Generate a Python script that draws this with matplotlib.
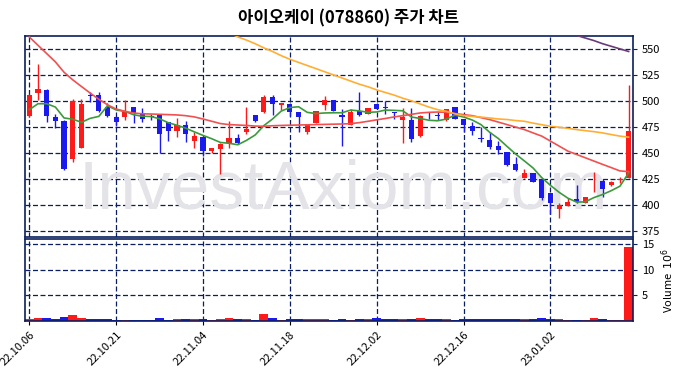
import matplotlib
matplotlib.use('Agg')
import matplotlib.pyplot as plt
import numpy as np

plt.rcParams['font.family'] = ['Noto Sans CJK KR', 'DejaVu Sans']

title = '아이오케이 (078860) 주가 차트'
tick_labels = ['22.10.06', '22.10.21', '22.11.04', '22.11.18', '22.12.02', '22.12.16', '23.01.02']
tick_pos = [0, 10, 20, 30, 40, 50, 60]

# OHLC (KRW)
opens = [486, 508, 511, 485, 481, 444, 455, 505.5, 506, 495, 485, 485, 495, 489, 485.5, 487, 480, 471, 477, 462,
         466, 452, 454, 460, 465, 470, 487, 490, 504, 496, 497, 490, 470, 479, 496, 501, 487, 477, 491, 488,
         497, 494.5, 489, 482, 482, 466.5, 486, 487, 482, 495, 483, 476, 464.5, 463, 457, 451, 440, 426, 431, 425,
         411.5, 396.5, 399.5, 406, 402.5, 422, 423.5, 419.5, 424, 426]
highs = [507, 536, 512, 488, 482, 502, 502, 509, 509, 498, 486, 501, 495, 494, 488, 487, 480, 484, 481, 470,
         466, 455, 460, 481, 469, 495, 487, 506, 506, 498, 498, 490, 478, 491, 505, 501, 493, 493, 509, 494,
         498, 500, 490, 494, 494, 486.5, 490, 490, 493, 495, 483, 480, 475.6, 470, 462, 451, 446, 435, 431, 425,
         411.5, 402.5, 406.5, 419, 407.5, 432, 425, 423, 427, 516]
lows = [485, 501, 480, 474, 434, 442, 455, 499, 490, 485, 476, 482, 479, 480, 482, 450, 462, 466, 461, 455,
        447, 450, 430, 455, 459, 469, 480, 489, 487, 492, 486, 470, 469, 479, 492, 491, 457, 477, 486, 488,
        493, 488, 483, 460, 461, 466, 483, 482, 481, 483, 470, 468, 460.7, 454, 449, 438, 433, 426, 422, 405,
        391.5, 387.5, 399.5, 402.5, 402.5, 413, 407.5, 418, 421, 426]
closes = [506, 512, 486, 481, 435, 500, 497, 505, 490.5, 486, 480, 490, 489, 483, 485, 469, 471, 477, 469, 467,
          452, 455, 459, 465, 460, 473, 481, 504, 497, 498, 490, 485, 477, 491, 501, 491, 485, 490, 487, 494,
          493, 494, 488.5, 485, 464, 486, 485.5, 486, 493, 483, 477, 471, 464, 456, 453, 439, 434, 431, 422, 406.5,
          402, 400.5, 403, 403, 407.5, 422.5, 415.5, 422, 424.5, 471]
# volume in millions of shares
volumes = [0.33, 0.53, 0.53, 0.33, 0.72, 1.1, 0.53, 0.33, 0.33, 0.33, 0.13, 0.2, 0.13, 0.13, 0.13, 0.53, 0.13, 0.33, 0.33, 0.33,
           0.33, 0.13, 0.33, 0.53, 0.33, 0.33, 0.13, 1.3, 0.53, 0.13, 0.33, 0.33, 0.33, 0.33, 0.33, 0.13, 0.33, 0.13, 0.33, 0.33,
           0.53, 0.33, 0.33, 0.33, 0.33, 0.53, 0.33, 0.33, 0.33, 0.13, 0.33, 0.33, 0.3, 0.3, 0.3, 0.3, 0.3, 0.33, 0.33, 0.53,
           0.33, 0.33, 0.13, 0.13, 0.13, 0.53, 0.33, 0.13, 0.13, 14.5]

# moving averages
ma5 = [492, 497.7, 497.7, 494.5, 484, 482.8, 479.8, 483.6, 485.5, 495.7, 491.7, 490.3, 487.1, 485.6, 485.4, 483.2, 479.4, 477, 474.2, 470.6,
       467.2, 464, 460.4, 459.6, 458.2, 462.4, 467.6, 476.6, 483, 490.6, 494, 494.8, 489.4, 488.2, 488.8, 489, 489, 491.6, 490.8, 489.4,
       489.8, 491.6, 491.3, 490.9, 484.9, 483.5, 481.8, 481.3, 482.9, 486.7, 484.9, 482, 477.6, 470.2, 464.2, 456.6, 449.2, 442.6, 435.8, 426.5,
       419.1, 412.4, 406.8, 403, 403.2, 407.3, 410.3, 414, 418.3, 431]
ma20 = [562, 554, 546, 538, 528, 520.7, 514.3, 508, 502, 496.7, 492.6, 490.4, 488.8, 488, 487.8, 487.5, 487.2, 486.9, 486.2, 485,
        483, 480.8, 478.6, 477.6, 477.2, 476.8, 476.2, 476, 476.5, 476.8, 477, 477.2, 477.4, 477.6, 477.8, 478, 478.2, 478.5, 479.5, 480.8,
        482.2, 483.5, 485, 486.2, 487.5, 488.8, 489.4, 489.7, 489.4, 488.3, 487.2, 486.2, 484.3, 482.4, 480, 477.6, 475.2, 472.8, 469.6, 466.5,
        461.7, 456.9, 452.1, 448.9, 445.7, 442.5, 439.3, 436.2, 433, 432.3]
ma60_start = 23
ma60 = [566, 562, 559, 555.5, 551.5, 548, 544, 540.5, 537.5, 534.5, 531.5, 528.5, 525.5, 522.5, 519.5, 516.5, 514,
        511, 508.5, 506, 503, 500.5, 497.5, 494.5, 492, 490.4, 488, 486.2, 485.5, 484.8, 484, 483, 482.5, 481.5, 480.8, 479, 477.5,
        476, 475, 474, 472.8, 471.8, 470.8, 469.6, 468, 466.5, 465.5]
ma120_start = 63
ma120 = [563.5, 561, 558.5, 555.5, 553, 550.5, 548]

navy = '#0b1f5e'
up_c = '#ff1a1a'
down_c = '#1a1aee'

fig = plt.figure(figsize=(6.86, 3.78), dpi=100)
ax = fig.add_axes([0.0364, 0.372, 0.8863, 0.533])
axv = fig.add_axes([0.0364, 0.1516, 0.8863, 0.2154], sharex=ax)

x = np.arange(len(closes))
o = np.array(opens); c = np.array(closes); h = np.array(highs); l = np.array(lows)
cols = np.where(c >= o, up_c, down_c)

ax.vlines(x, l, h, colors=cols, linewidth=1.0, zorder=3)
body_bot = np.minimum(o, c)
body_h = np.maximum(np.abs(c - o), 0.8)
ax.bar(x, body_h, bottom=body_bot, width=0.6, color=cols, zorder=4)

ax.plot(x, ma5, color='#3c9a3c', lw=1.2, zorder=5)
ax.plot(x, ma20, color='#f05050', lw=1.2, zorder=5)
ax.plot(np.arange(ma60_start, ma60_start + len(ma60)), ma60, color='#ffae33', lw=1.2, zorder=5)
ax.plot(np.arange(ma120_start, ma120_start + len(ma120)), ma120, color='#6b3a78', lw=1.2, zorder=5)

ax.text(0.523, 0.235, 'InvestAxiom.com', transform=ax.transAxes, fontsize=50,
        color='#e3e3e8', ha='center', va='center', zorder=1, family='Liberation Sans')

ax.set_ylim(369, 563)
ax.set_yticks([375, 400, 425, 450, 475, 500, 525, 550])
ax.set_xlim(-0.5, 69.5)

axv.bar(x, volumes, width=1.0, color=cols)
axv.set_ylim(0, max(volumes) * 1.1)
axv.set_yticks([5, 10, 15])
axv.set_xticks(tick_pos)
axv.set_xticklabels(tick_labels, rotation=45, ha='right', rotation_mode='anchor', fontsize=8)
axv.set_ylabel('Volume  $10^6$', fontsize=8)
axv.yaxis.set_label_position('right')

for a in (ax, axv):
    a.yaxis.tick_right()
    a.tick_params(axis='y', labelsize=8, length=3, color=navy)
    a.tick_params(axis='x', length=3, color='black')
    a.grid(True, color=navy, linestyle=(0, (4, 2)), linewidth=0.9)
    a.set_axisbelow(True)
    for s in a.spines.values():
        s.set_color(navy)
        s.set_linewidth(1.2)
ax.tick_params(axis='x', labelbottom=False, length=0)

fig.text(0.508, 0.952, title, ha='center', va='center', fontsize=12, fontweight='bold')

fig.savefig('out.png', dpi=100)
